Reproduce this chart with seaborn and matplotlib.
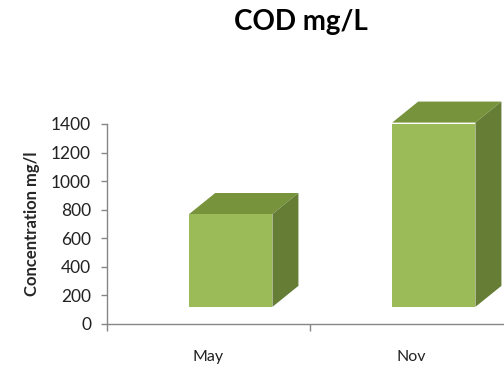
import matplotlib
matplotlib.use("Agg")
import matplotlib.pyplot as plt
from matplotlib.patches import Polygon
from matplotlib.ticker import FixedLocator
import seaborn as sns
import pandas as pd

# COD concentrations by sampling month
months = ["May", "Nov"]
cod_values = [770, 1410]
y_ticks = [0, 200, 400, 600, 800, 1000, 1200, 1400]

front_color = "#9BBB59"
top_color = "#77933C"
side_color = "#657D35"

sns.set_theme(style="white")
plt.rcParams["font.family"] = ["Lato", "DejaVu Sans"]

df = pd.DataFrame({"month": months, "cod": cod_values})

fig = plt.figure(figsize=(5.04, 3.67), dpi=100)
ax = fig.add_axes([107 / 504, 43 / 367, 406 / 504, 200 / 367])

sns.barplot(data=df, x="month", y="cod", color=front_color, width=0.41,
            saturation=1, ax=ax, zorder=3)

# 3D look: floor level, lateral shift of the front face and extrusion depth
floor = 120
shift = 0.11
depth_x = 0.128
depth_y = 147

for patch, val in zip(ax.patches, cod_values):
    patch.set_x(patch.get_x() + shift)
    patch.set_y(floor)
    patch.set_height(val - floor)
    patch.set_edgecolor("none")
    patch.set_linewidth(0)
    x0 = patch.get_x()
    x1 = x0 + patch.get_width()
    top = [(x0, val), (x1, val), (x1 + depth_x, val + depth_y), (x0 + depth_x, val + depth_y)]
    side = [(x1, floor), (x1 + depth_x, floor + depth_y), (x1 + depth_x, val + depth_y), (x1, val)]
    ax.add_patch(Polygon(top, closed=True, facecolor=top_color, edgecolor="none",
                         zorder=2, clip_on=False))
    ax.add_patch(Polygon(side, closed=True, facecolor=side_color, edgecolor="none",
                         zorder=2, clip_on=False))

ax.set_xlim(-0.5, 1.5)
ax.set_ylim(0, 1400)
ax.set_yticks(y_ticks)
ax.set_yticklabels([str(t) for t in y_ticks])
ax.set_xlabel("")
ax.set_ylabel("Concentration mg/l", fontsize=12, fontweight="bold", labelpad=8)

for s in ["top", "right"]:
    ax.spines[s].set_visible(False)
for s in ["left", "bottom"]:
    ax.spines[s].set_color("#868686")
    ax.spines[s].set_linewidth(1.0)

ax.tick_params(axis="y", which="major", length=4.5, width=1, color="#868686",
               labelsize=12.5, labelcolor="#222222", pad=7, left=True, direction="out")
ax.tick_params(axis="x", which="major", length=0, labelsize=11.5,
               labelcolor="#222222", pad=19)
ax.xaxis.set_minor_locator(FixedLocator([-0.5, 0.5, 1.5]))
ax.tick_params(axis="x", which="minor", length=5, width=1, color="#868686",
               bottom=True, direction="out")

fig.text(301 / 504, 1 - 22 / 367, "COD mg/L", ha="center", va="center",
         fontsize=20, fontweight="bold", color="black")

fig.savefig("out.png", dpi=100)
